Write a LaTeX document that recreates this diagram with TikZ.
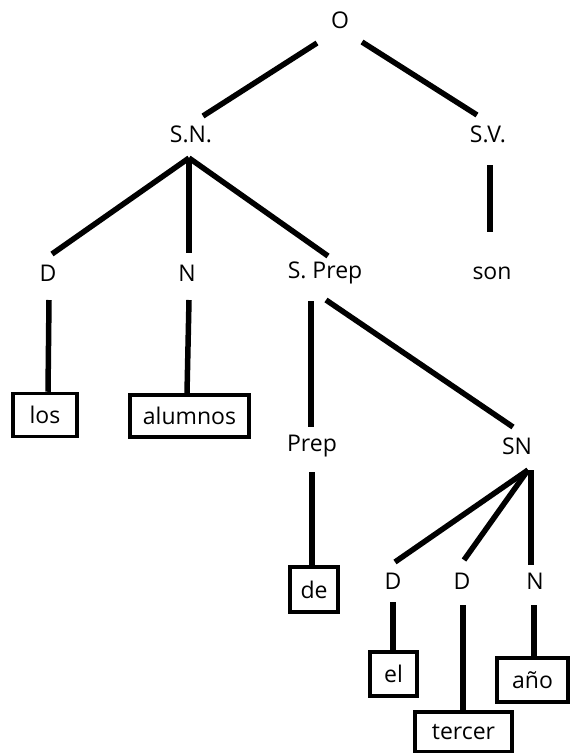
\documentclass[tikz,border=0pt]{standalone}
\usepackage{fontspec}
\setmainfont{Open Sans}
\begin{document}
\begin{tikzpicture}[x=1pt,y=-1pt,
  lbl/.style={inner sep=0pt,font=\fontsize{23}{27}\selectfont},
  leaf/.style={draw,line width=3.5pt,inner sep=0pt,font=\fontsize{23}{27}\selectfont},
  edge/.style={line width=5.5pt}]
\useasboundingbox (0,0) rectangle (570,753);
% labels
\node[lbl] (O) at (340,20) {O};
\node[lbl] (SN) at (191,134) {S.N.};
\node[lbl] (SV) at (488,134) {S.V.};
\node[lbl] (D1) at (48,273) {D};
\node[lbl] (N1) at (187,273) {N};
\node[lbl] (SP) at (325,273) {S. Prep};
\node[lbl] (son) at (492,273) {son};
\node[lbl] (Prep) at (312,446) {Prep};
\node[lbl] (SN2) at (517,446) {SN};
\node[lbl] (D2) at (393,581) {D};
\node[lbl] (D3) at (462,581) {D};
\node[lbl] (N2) at (535,581) {N};
% boxed leaves
\node[leaf,minimum width=64pt,minimum height=43pt] (los) at (45,415) {los};
\node[leaf,minimum width=119pt,minimum height=42pt] (alumnos) at (189.5,416) {alumnos};
\node[leaf,minimum width=48pt,minimum height=45pt] (de) at (314,589.5) {de};
\node[leaf,minimum width=47pt,minimum height=44pt] (el) at (393.5,674) {el};
\node[leaf,minimum width=97pt,minimum height=40pt] (tercer) at (463.5,732) {tercer};
\node[leaf,minimum width=71pt,minimum height=44pt] (anio) at (532.5,680) {año};
% connectors
\draw[edge] ([shift={(-23,23)}]O.center) -- ([shift={(12,-18)}]SN.center);
\draw[edge] ([shift={(22,22)}]O.center) -- ([shift={(-11,-19)}]SV.center);
\draw[edge] ([shift={(-2,24)}]SN.center) -- ([shift={(4,-19)}]D1.center);
\draw[edge] ([shift={(-2,24)}]SN.center) -- ([shift={(2,-20)}]N1.center);
\draw[edge] ([shift={(-2,24)}]SN.center) -- ([shift={(3,-17)}]SP.center);
\draw[edge] ([shift={(2,31)}]SV.center) -- ([shift={(-2,-41)}]son.center);
\draw[edge] ([shift={(1,27)}]D1.center) -- (los.north -| D1.center);
\draw[edge] ([shift={(2,27)}]N1.center) -- (alumnos.north -| N1.center);
\draw[edge] ([shift={(-14,28)}]SP.center) -- ([shift={(-1,-19)}]Prep.center);
\draw[edge] ([shift={(1,27)}]SP.center) -- ([shift={(-4,-19)}]SN2.center);
\draw[edge] ([shift={(0,26)}]Prep.center) -- (de.north -| Prep.center);
\draw[edge] ([shift={(11,24)}]SN2.center) -- ([shift={(2,-19)}]D2.center);
\draw[edge] ([shift={(11,24)}]SN2.center) -- ([shift={(2,-21)}]D3.center);
\draw[edge] ([shift={(14,24)}]SN2.center) -- ([shift={(-4,-16)}]N2.center);
\draw[edge] ([shift={(0,21)}]D2.center) -- (el.north -| D2.center);
\draw[edge] ([shift={(1,24)}]D3.center) -- ([xshift=1pt]tercer.north -| D3.center);
\draw[edge] ([shift={(-1,24)}]N2.center) -- ([xshift=-1pt]anio.north -| N2.center);
\end{tikzpicture}
\end{document}
